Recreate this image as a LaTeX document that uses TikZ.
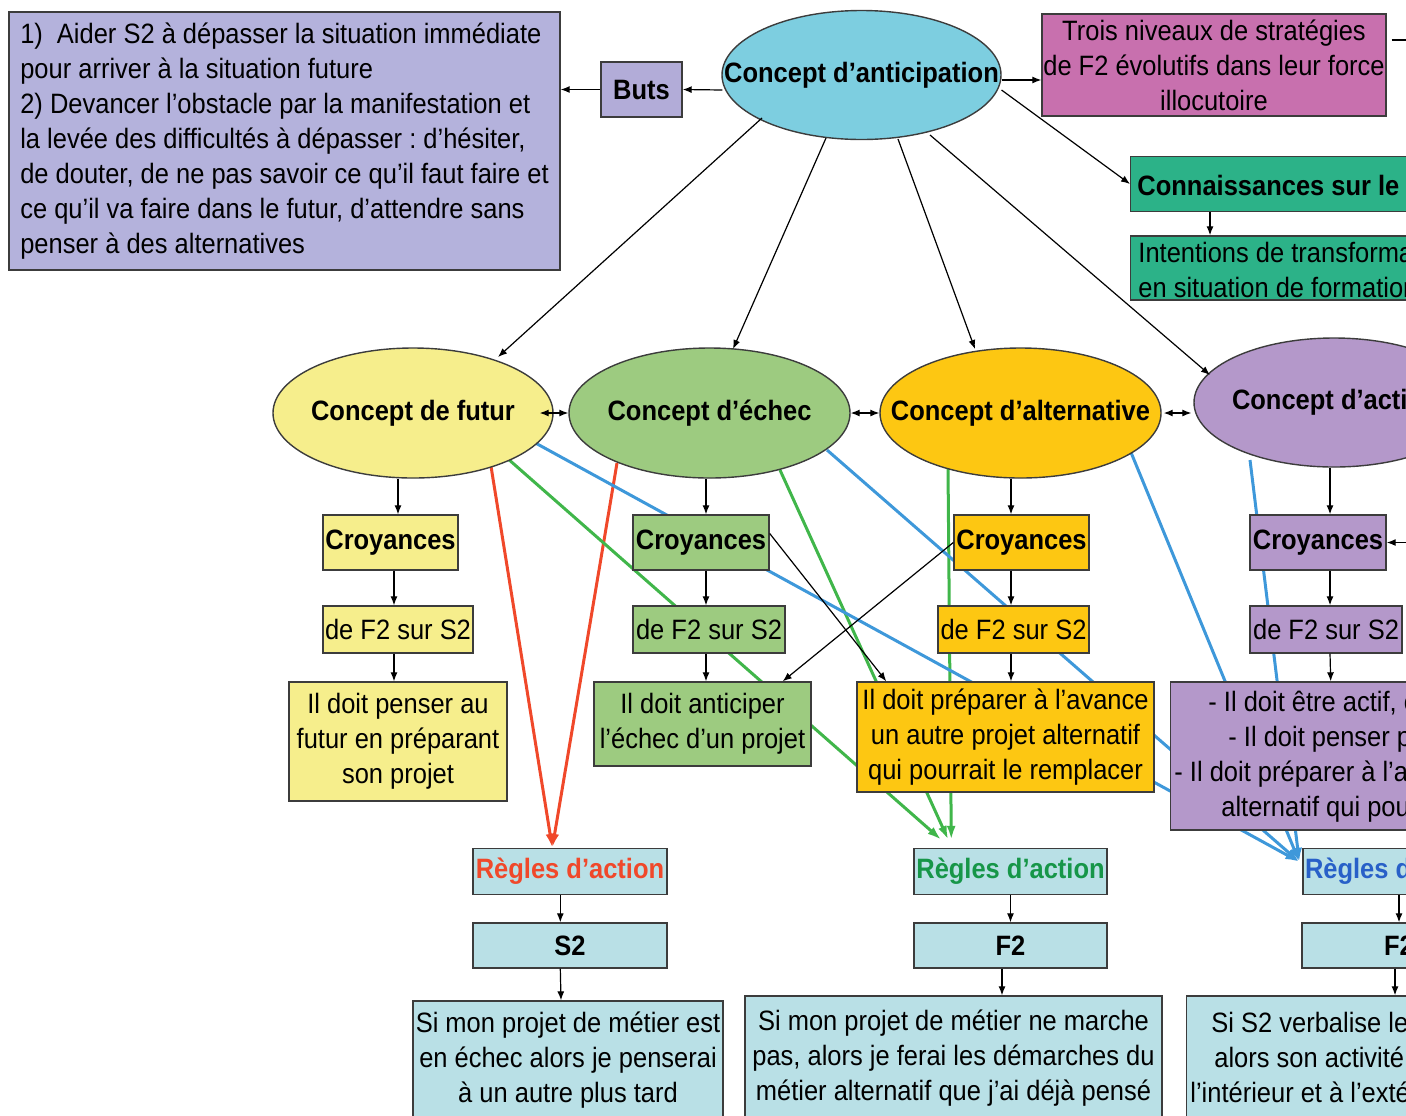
\documentclass[tikz,border=0pt]{standalone}
\usepackage{fontspec}
\setmainfont{Liberation Sans}[FakeStretch=0.91]
\usetikzlibrary{shapes.geometric,arrows.meta,calc}
\definecolor{lav}{RGB}{180,178,220}
\definecolor{butsc}{RGB}{178,172,216}
\definecolor{cyanell}{RGB}{125,206,224}
\definecolor{magbox}{RGB}{200,112,174}
\definecolor{tealbox}{RGB}{44,178,136}
\definecolor{yel}{RGB}{246,238,140}
\definecolor{grn}{RGB}{157,203,128}
\definecolor{goldc}{RGB}{253,199,18}
\definecolor{purp}{RGB}{180,152,202}
\definecolor{lblue}{RGB}{185,224,230}
\definecolor{redl}{RGB}{240,72,42}
\definecolor{grnl}{RGB}{64,182,74}
\definecolor{bluel}{RGB}{62,152,218}
\definecolor{grntxt}{RGB}{22,150,72}
\definecolor{bluetxt}{RGB}{40,96,200}
\definecolor{edge}{RGB}{60,60,60}
\pgfdeclarelayer{bg}
\pgfsetlayers{bg,main}
\def\pxl{0.5pt}
\frenchspacing
\begin{document}
\begin{tikzpicture}[x=0.5pt,y=-0.5pt,
  every node/.style={font=\fontsize{14}{17.5}\selectfont, inner sep=0pt},
  bx/.style={draw=edge, line width=0.7pt, rectangle, align=center},
  bxb/.style={font=\fontsize{14}{17.5}\selectfont\bfseries},
  el/.style={draw=edge, line width=0.7pt, ellipse, font=\fontsize{14}{17.5}\selectfont\bfseries},
  arr/.style={-{Latex[length=4.5pt,width=3.5pt]}, line width=0.6pt, draw=black},
  darr/.style={{Latex[length=4.5pt,width=3.5pt]}-{Latex[length=4.5pt,width=3.5pt]}, line width=0.6pt},
  col/.style={line width=1.5pt, -{Latex[length=7pt,width=4.5pt]}},
  txt/.style={anchor=west, align=left}
]
\useasboundingbox (0,0) rectangle (1406,1115);
\clip (0,0) rectangle (1406,1115);

% top row
\node[bx,fill=lav,minimum width=551*\pxl,minimum height=258*\pxl,align=left] (goal) at (284.5,141)
 {1)\hspace{7pt}Aider S2 à dépasser la situation immédiate\\pour arriver à la situation future\\2) Devancer l’obstacle par la manifestation et\\la levée des difficultés à dépasser : d’hésiter,\\de douter, de ne pas savoir ce qu’il faut faire et\\ce qu’il va faire dans le futur, d’attendre sans\\penser à des alternatives};
\node[bx,bxb,fill=butsc,minimum width=81*\pxl,minimum height=55*\pxl] (buts) at (641.5,89.5) {Buts};
\node[el,fill=cyanell,minimum width=279*\pxl,minimum height=129*\pxl] (antic) at (861.5,75) {\makebox[0pt]{\raisebox{-3pt}{Concept d’anticipation}}};
\node[bx,fill=magbox,minimum width=344*\pxl,minimum height=102*\pxl] (trois) at (1214,65) {Trois niveaux de stratégies\\de F2 évolutifs dans leur force\\illocutoire};
\node[bx,fill=tealbox,minimum width=400*\pxl,minimum height=55*\pxl,anchor=west] (conn) at (1130,184) {};
\node[txt,bxb] (connt) at (1137,185) {Connaissances sur le};
\node[bx,fill=tealbox,minimum width=400*\pxl,minimum height=64*\pxl,anchor=west] (inten) at (1130,268) {};
\node[txt] (intent) at (1138,270) {Intentions de transforma\\en situation de formation};

% concepts
\node[el,fill=yel,minimum width=280*\pxl,minimum height=130*\pxl] (fut) at (413,413) {\makebox[0pt]{Concept de futur}};
\node[el,fill=grn,minimum width=281*\pxl,minimum height=130*\pxl] (ech) at (709.5,413) {\makebox[0pt]{Concept d’échec}};
\node[el,fill=goldc,minimum width=281*\pxl,minimum height=130*\pxl] (alt) at (1020.5,413) {\makebox[0pt]{Concept d’alternative}};
\node[el,fill=purp,minimum width=280*\pxl,minimum height=129*\pxl] (act) at (1334,402.5) {\makebox[0pt]{\makebox[102pt][l]{Concept d’acti}}};

% croyances
\node[bx,bxb,fill=yel,minimum width=135*\pxl,minimum height=55*\pxl] (cf) at (390.5,542.5) {Croyances};
\node[bx,bxb,fill=grn,minimum width=136*\pxl,minimum height=55*\pxl] (ce) at (701,542.5) {Croyances};
\node[bx,bxb,fill=goldc,minimum width=135*\pxl,minimum height=55*\pxl] (ca) at (1021.5,542.5) {Croyances};
\node[bx,bxb,fill=purp,minimum width=136*\pxl,minimum height=55*\pxl] (cac) at (1318,542.5) {Croyances};

% de F2 sur S2
\node[bx,fill=yel,minimum width=150*\pxl,minimum height=47*\pxl] (df) at (398,629.5) {de F2 sur S2};
\node[bx,fill=grn,minimum width=152*\pxl,minimum height=47*\pxl] (de) at (709,629.5) {de F2 sur S2};
\node[bx,fill=goldc,minimum width=151*\pxl,minimum height=47*\pxl] (da) at (1013.5,629.5) {de F2 sur S2};
\node[bx,fill=purp,minimum width=152*\pxl,minimum height=47*\pxl] (dac) at (1326,629.5) {de F2 sur S2};

% Il doit
\node[bx,fill=yel,minimum width=218*\pxl,minimum height=119*\pxl] (if) at (398,741.5) {Il doit penser au\\futur en préparant\\son projet};
\node[bx,fill=grn,minimum width=217*\pxl,minimum height=84*\pxl] (ie) at (702.5,724) {Il doit anticiper\\l’échec d’un projet};
\node[bx,fill=goldc,minimum width=297*\pxl,minimum height=110*\pxl] (ia) at (1005.5,737) {Il doit préparer à l’avance\\un autre projet alternatif\\qui pourrait le remplacer};
\node[bx,fill=purp,minimum width=400*\pxl,minimum height=148*\pxl,anchor=west] (iac) at (1170,756) {};
\node[txt] (iact) at (1174,757) {\hspace*{17pt}- Il doit être actif, c\\\hspace*{27pt}- Il doit penser p\\- Il doit préparer à l’a\\\hspace*{23.5pt}alternatif qui pou};

% rules
\node[bx,bxb,fill=lblue,minimum width=194*\pxl,minimum height=46*\pxl,text=redl] (rr) at (570,871.5) {Règles d’action};
\node[bx,bxb,fill=lblue,minimum width=194*\pxl,minimum height=45*\pxl] (rs) at (570,945.5) {S2};
\node[bx,fill=lblue,minimum width=310*\pxl,minimum height=119*\pxl] (rt) at (568,1060.5) {Si mon projet de métier est\\en échec alors je penserai\\à un autre plus tard};

\node[bx,bxb,fill=lblue,minimum width=193*\pxl,minimum height=46*\pxl,text=grntxt] (rg) at (1010.5,871.5) {Règles d’action};
\node[bx,bxb,fill=lblue,minimum width=193*\pxl,minimum height=45*\pxl] (fg) at (1010.5,945.5) {F2};
\node[bx,fill=lblue,minimum width=417*\pxl,minimum height=124*\pxl] (gt) at (953.5,1058) {Si mon projet de métier ne marche\\pas, alors je ferai les démarches du\\métier alternatif que j’ai déjà pensé};

\node[bx,bxb,fill=lblue,minimum width=192*\pxl,minimum height=46*\pxl,text=bluetxt] (rb) at (1399,871.5) {\makebox[0pt]{\makebox[94pt][l]{Règles d}}};
\node[bx,bxb,fill=lblue,minimum width=194*\pxl,minimum height=45*\pxl] (fb) at (1399,945.5) {F2};
\node[bx,fill=lblue,minimum width=420*\pxl,minimum height=124*\pxl,anchor=west] (bt) at (1186,1058) {};
\node[txt] (btt) at (1190,1057) {\hspace*{10.5pt}Si S2 verbalise le\\\hspace*{12pt}alors son activité\\l’intérieur et à l’exté};

\coordinate (offr) at (1460,542.5);

% coloured connectors (behind boxes)
\begin{pgfonlayer}{bg}
\draw[col,redl] ($(fut.center)+(77,47)$) -- ($(rr.north west)+(80,0)$);
\draw[col,redl] ($(ech.center)+(-92.5,50)$) -- ($(rr.north west)+(80,0)$);
\draw[col,grnl] ($(fut.center)+(94,45)$) -- ($(rg.north west)+(28,-8)$);
\draw[col,grnl] ($(ech.center)+(70.5,57)$) -- ($(rg.north west)+(35,-8)$);
\draw[col,grnl] ($(alt.center)+(-72.5,55)$) -- ($(rg.north west)+(38,-8)$);
\draw[col,bluel] ($(fut.center)+(117,27)$) -- ($(rb.north west)+(-3,14)$);
\draw[col,bluel] ($(ech.center)+(117.5,37)$) -- ($(rb.north west)+(-3,14)$);
\draw[col,bluel] ($(alt.center)+(109.5,37)$) -- ($(rb.north west)+(-3,14)$);
\draw[col,bluel] ($(act.center)+(-84,57.5)$) -- ($(rb.north west)+(-3,14)$);
\end{pgfonlayer}

% black connectors
\draw[arr] ($(antic.west)+(1,15)$) -- (buts.east);
\draw[arr] (buts.west) -- (buts.west -| goal.east);
\draw[arr] ($(antic.east)+(0,5)$) -- ($(trois.west)+(0,15)$);
\draw[line width=0.6pt] ($(trois.east)+(5,-25)$) -- ++(80,0);
\draw[arr] ($(antic.center)+(140,15)$) -- (conn.west);
\draw[arr] ($(conn.south west)+(80,0)$) -- ($(inten.north west)+(80,0)$);
\draw[arr] ($(antic.center)+(-99.5,43)$) -- ($(fut.center)+(85,-56)$);
\draw[arr] ($(antic.center)+(-35.5,63)$) -- ($(ech.center)+(23.5,-64)$);
\draw[arr] ($(antic.center)+(36.5,64)$) -- ($(alt.center)+(-45.5,-64)$);
\draw[arr] ($(antic.center)+(68.5,60)$) -- ($(act.center)+(-124,-27.5)$);

\draw[darr] ($(fut.east)+(-14,0)$) -- (ech.west);
\draw[darr] (ech.east) -- (alt.west);
\draw[darr] ($(alt.east)+(2,0)$) -- ($(act.west)+(-2,10.5)$);
\draw[arr] (offr) -- (cac.east);

\draw[arr] ($(fut.south)+(-15,0)$) -- ($(cf.north)+(7.5,0)$);
\draw[arr] ($(cf.south)+(3.5,0)$) -- ($(df.north)+(-4,0)$);
\draw[arr] ($(df.south)+(-4,0)$) -- ($(if.north)+(-4,0)$);
\draw[arr] ($(ech.south)+(-3.5,0)$) -- ($(ce.north)+(5,0)$);
\draw[arr] ($(ce.south)+(5,0)$) -- ($(de.north)+(-3,0)$);
\draw[arr] ($(de.south)+(-3,0)$) -- ($(ie.north)+(3.5,0)$);
\draw[arr] ($(alt.south)+(-9.5,0)$) -- ($(ca.north)+(-10.5,0)$);
\draw[arr] ($(ca.south)+(-10.5,0)$) -- ($(da.north)+(-2.5,0)$);
\draw[arr] ($(da.south)+(-2.5,0)$) -- ($(ia.north)+(5.5,0)$);
\draw[arr] ($(act.south)+(-4,0)$) -- ($(cac.north)+(12,0)$);
\draw[arr] ($(cac.south)+(12,0)$) -- ($(dac.north)+(4,0)$);
\draw[arr] ($(dac.south)+(4,0)$) -- ($(iac.north)+(-40,0)$);

\draw[arr] ($(ce.east)+(0,-9)$) -- ($(ia.north west)+(30,0)$);
\draw[arr] (ca.west) -- ($(ie.north east)+(-29,0)$);

\draw[arr] ($(rr.south west)+(88,0)$) -- ($(rs.north west)+(88,0)$);
\draw[arr] ($(rs.south west)+(88,0)$) -- ($(rt.north)+(-7,0)$);
\draw[arr] (rg.south) -- (fg.north);
\draw[arr] ($(fg.south)+(-8.5,0)$) -- ($(gt.north)+(48.5,0)$);
\draw[arr] (rb.south) -- (fb.north);
\draw[arr] ($(fb.south)+(-4,0)$) coordinate (fbo) -- (fbo |- bt.north);
\end{tikzpicture}
\end{document}
